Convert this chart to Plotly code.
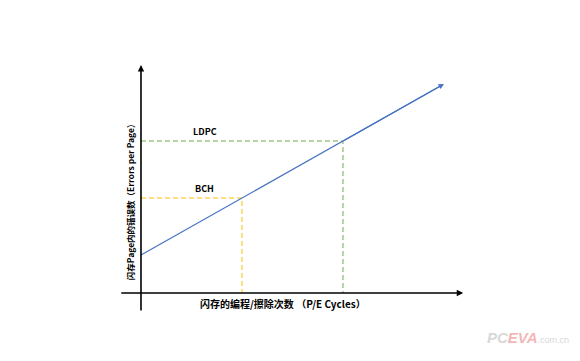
import plotly.graph_objects as go

# Data (abstract units: P/E cycles vs errors per page)
pe_cycles = [0, 1, 2, 3]
errors = [2, 5, 8, 11]
bch_point = (1, 5)
ldpc_point = (2, 8)
threshold_labels = ["BCH", "LDPC"]
x_title = "闪存的编程/擦除次数 （P/E Cycles）"
y_title = "闪存Page内的错误数（Errors per Page）"

FONT = "Noto Sans CJK SC"
BLUE = "#4472C4"
YELLOW = "#FFC000"
GREEN = "#70AD47"

fig = go.Figure()

# BCH dashed guides
fig.add_trace(go.Scatter(x=[0, bch_point[0], bch_point[0]], y=[bch_point[1], bch_point[1], 0],
                         mode="lines", line=dict(color=YELLOW, width=1, dash="5px,3px"),
                         hoverinfo="skip", showlegend=False))
# LDPC dashed guides
fig.add_trace(go.Scatter(x=[0, ldpc_point[0], ldpc_point[0]], y=[ldpc_point[1], ldpc_point[1], 0],
                         mode="lines", line=dict(color=GREEN, width=1, dash="5px,3px"),
                         hoverinfo="skip", showlegend=False))
# Main line
fig.add_trace(go.Scatter(x=pe_cycles[:-1] + [pe_cycles[-1] - 0.04], y=errors[:-1] + [errors[-1] - 0.12],
                         mode="lines", line=dict(color=BLUE, width=1.2),
                         hoverinfo="skip", showlegend=False))

annotations = []
# arrowhead for main line
annotations.append(dict(x=pe_cycles[-1], y=errors[-1], ax=pe_cycles[-2], ay=errors[-2],
                        xref="x", yref="y", axref="x", ayref="y", text="",
                        showarrow=True, arrowhead=2, arrowsize=0.9, arrowwidth=1.2,
                        arrowcolor=BLUE, standoff=0, startstandoff=0))
# x axis arrow
annotations.append(dict(x=3.19, y=0, ax=-0.21, ay=0, xref="x", yref="y", axref="x", ayref="y",
                        text="", showarrow=True, arrowhead=2, arrowsize=0.8, arrowwidth=1.6,
                        arrowcolor="#000000"))
# y axis arrow
annotations.append(dict(x=0, y=12.0, ax=0, ay=-1.0, xref="x", yref="y", axref="x", ayref="y",
                        text="", showarrow=True, arrowhead=2, arrowsize=0.8, arrowwidth=1.6,
                        arrowcolor="#000000"))
# threshold labels
for lab, pt in zip(threshold_labels, [bch_point, ldpc_point]):
    annotations.append(dict(x=0.63, y=pt[1], xref="x", yref="y", text="<b>" + lab + "</b>",
                            showarrow=False, yanchor="bottom", yshift=1,
                            font=dict(family=FONT, size=9, color="#000000")))
# axis titles
annotations.append(dict(x=1.41, y=0, xref="x", yref="y", text="<b>" + x_title + "</b>",
                        showarrow=False, yanchor="middle", yshift=-10,
                        font=dict(family=FONT, size=10, color="#000000")))
annotations.append(dict(x=0, y=4.94, xref="x", yref="y", text="<b>" + y_title + "</b>",
                        showarrow=False, textangle=-90, xanchor="center", xshift=-11,
                        font=dict(family=FONT, size=8.5, color="#000000")))
# watermark
annotations.append(dict(x=0.985, y=0.035, xref="paper", yref="paper", xanchor="right", yanchor="bottom",
                        text="<span style='color:#d8d8d8'><b><i>PC</i></b></span>"
                             "<span style='color:#f2b8b8'><b><i>EVA</i></b></span>"
                             "<span style='color:#d8d8d8;font-size:9px'>.com.cn</span>",
                        showarrow=False, font=dict(family="Liberation Sans", size=15)))

fig.update_layout(
    width=580, height=361,
    margin=dict(l=0, r=0, t=0, b=0),
    paper_bgcolor="white", plot_bgcolor="white",
    xaxis=dict(range=[-1.396, 4.347], visible=False, fixedrange=True),
    yaxis=dict(range=[-3.579, 15.421], visible=False, fixedrange=True),
    annotations=annotations,
    showlegend=False,
)

fig.write_html("out.html")
